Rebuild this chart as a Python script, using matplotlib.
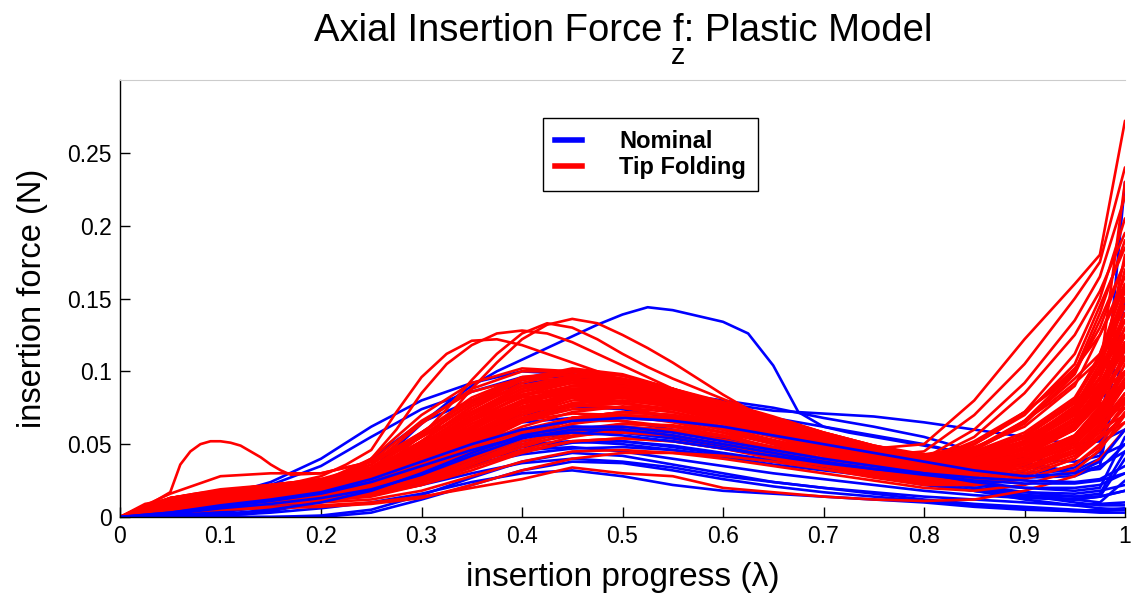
import matplotlib
matplotlib.use("Agg")
import matplotlib.pyplot as plt
from matplotlib.lines import Line2D
from matplotlib import font_manager

# Insertion progress grid shared by most trials
lam = [0, .05, .1, .15, .2, .25, .3, .35, .4, .45, .5, .55, .6, .65, .7, .75,
       .8, .85, .9, .95, .975, 1.0]
# Finer grid for the trials with pronounced peaks
lam_fine = [0, .025, .05, .075, .1, .125, .15, .175, .2, .225, .25, .275, .3, .325,
            .35, .375, .4, .425, .45, .475, .5, .525, .55, .575, .6, .625, .65, .675,
            .7, .725, .75, .775, .8, .825, .85, .875, .9, .925, .95, .975, 1.0]

# Nominal insertions: axial force in mN
nominal_peak = [0, 0, 0, 1, 1, 2, 4, 7, 12, 20, 32, 48, 64, 78, 90, 100, 108, 116, 124, 132,
                139, 144, 142, 138, 134, 126, 104, 72, 62, 58, 55, 52, 49, 46, 43, 40, 37, 34, 31, 33, 50]
nominal_02 = [0, 1, 3, 8, 18, 40, 65, 80, 92, 95, 92, 85, 78, 73, 71, 69, 65, 60, 55, 50, 52, 60]
nominal_03 = [0, 8, 14, 24, 40, 62, 80, 92, 100, 98, 92, 85, 80, 75, 68, 62, 55, 45, 40, 38, 42, 50]
nominal_04 = [0, 6, 12, 22, 35, 55, 74, 86, 96, 96, 90, 82, 75, 68, 62, 56, 50, 42, 35, 30, 35, 45]
nominal_05 = [0, 0, 0, 0, 0, 3, 12, 22, 32, 38, 37, 32, 26, 21, 17, 14, 11, 8, 6, 4, 5, 6]
nominal_06 = [0, 0, 0, 0, 1, 5, 15, 27, 38, 44, 42, 36, 30, 24, 20, 16, 12, 9, 7, 5, 4, 5]
nominal_07 = [0, 0, 1, 3, 6, 10, 16, 24, 30, 32, 28, 22, 18, 16, 14, 12, 10, 7, 5, 4, 3, 3]
nominal_08 = [0, 2, 5, 8, 12, 16, 22, 30, 37, 40, 38, 34, 28, 24, 20, 17, 14, 12, 10, 8, 9, 10]
nominal_09 = [0, 3, 8, 12, 15, 20, 28, 38, 46, 48, 45, 40, 35, 30, 26, 22, 18, 15, 13, 12, 14, 18]
nominal_10 = [0, 4, 9, 13, 17, 23, 32, 42, 50, 52, 50, 46, 41, 36, 32, 28, 25, 22, 20, 20, 22, 30]
nominal_11 = [0, 3, 7, 11, 16, 24, 35, 46, 55, 58, 56, 52, 47, 42, 37, 33, 30, 27, 25, 24, 26, 35]
nominal_12 = [0, 5, 10, 14, 19, 27, 40, 52, 60, 62, 60, 55, 50, 45, 40, 36, 32, 30, 30, 32, 40, 150]
nominal_13 = [0, 4, 9, 13, 18, 28, 42, 55, 65, 68, 66, 60, 54, 48, 43, 38, 34, 31, 30, 34, 45, 230]
nominal_14 = [0, 2, 6, 10, 15, 25, 40, 56, 70, 76, 74, 68, 60, 52, 45, 40, 35, 30, 27, 28, 35, 120]
nominal_15 = [0, 3, 8, 12, 17, 26, 38, 50, 60, 66, 68, 66, 62, 56, 50, 44, 38, 32, 28, 30, 38, 60]
nominal_16 = [0, 1, 4, 8, 13, 22, 35, 48, 58, 62, 60, 55, 48, 42, 36, 30, 24, 18, 14, 12, 14, 18]
nominal_17 = [0, 2, 6, 9, 13, 20, 30, 40, 48, 52, 52, 48, 43, 38, 33, 28, 22, 18, 15, 14, 16, 45]
nominal_18 = [0, 1, 5, 9, 14, 22, 34, 46, 56, 60, 58, 54, 49, 44, 39, 34, 28, 22, 17, 14, 14, 40]
nominal_19 = [0, 0, 2, 5, 10, 18, 30, 44, 56, 62, 62, 58, 52, 46, 40, 35, 30, 24, 20, 18, 20, 55]
nominal_20 = [0, 2, 6, 10, 14, 20, 28, 36, 43, 47, 48, 46, 42, 38, 34, 30, 26, 20, 15, 12, 10, 25]
nominal_21 = [0, 3, 7, 11, 15, 22, 33, 45, 56, 61, 60, 56, 50, 44, 38, 32, 26, 20, 15, 10, 8, 8]
nominal_22 = [0, 2, 5, 8, 11, 16, 24, 35, 45, 51, 52, 49, 44, 39, 34, 29, 24, 18, 12, 8, 6, 5]
nominal_23 = [0, 1, 4, 7, 11, 17, 27, 40, 52, 58, 58, 54, 48, 42, 36, 30, 25, 20, 17, 16, 18, 22]
nominal_24 = [0, 2, 6, 9, 13, 19, 29, 42, 54, 60, 60, 56, 50, 44, 38, 33, 29, 25, 23, 23, 25, 30]

# Tip-folding insertions with the highest mid-insertion peaks (fine grid), in mN
folding_peak_a = [0, 6, 10, 12, 14, 15, 17, 18, 20, 23, 28, 36, 50, 68, 88, 106, 122, 132, 136, 133,
                  125, 116, 106, 95, 84, 74, 66, 60, 54, 50, 46, 43, 42, 45, 52, 62, 72, 85, 100, 130, 175]
folding_peak_b = [0, 7, 11, 13, 15, 17, 18, 20, 22, 26, 32, 42, 56, 74, 94, 112, 126, 133, 130, 122,
                  112, 103, 95, 88, 81, 74, 67, 60, 54, 49, 45, 42, 40, 43, 50, 60, 72, 86, 102, 125, 160]
folding_peak_c = [0, 9, 12, 14, 16, 18, 20, 22, 25, 30, 40, 60, 85, 105, 118, 126, 128, 126, 120, 112,
                  104, 96, 88, 80, 72, 65, 58, 52, 47, 43, 40, 38, 38, 41, 47, 56, 66, 78, 92, 108, 135]
folding_peak_d = [0, 8, 13, 16, 18, 20, 22, 24, 28, 36, 46, 72, 96, 112, 121, 122, 118, 112, 106, 100,
                  94, 88, 82, 76, 70, 64, 58, 53, 48, 44, 40, 38, 37, 40, 46, 55, 66, 80, 95, 112, 150]

# Remaining tip-folding insertions (coarse grid), in mN
folding_05 = [0, 12, 17, 20, 24, 34, 55, 78, 95, 102, 98, 88, 76, 64, 52, 44, 42, 50, 72, 112, 150, 205]
folding_06 = [0, 10, 15, 19, 23, 30, 48, 70, 88, 96, 95, 88, 78, 66, 55, 47, 50, 80, 122, 160, 180, 272]
folding_07 = [0, 16, 28, 30, 30, 38, 58, 80, 94, 98, 92, 82, 70, 60, 50, 42, 45, 70, 105, 150, 175, 240]
folding_08 = [0, 9, 13, 17, 21, 28, 42, 62, 80, 90, 92, 86, 76, 65, 54, 45, 40, 60, 92, 135, 165, 220]
folding_09 = [0, 11, 16, 20, 22, 27, 38, 55, 72, 84, 88, 84, 74, 62, 52, 44, 38, 55, 85, 125, 155, 195]
folding_10 = [0, 8, 12, 15, 18, 24, 35, 52, 70, 82, 86, 82, 72, 62, 52, 43, 37, 40, 52, 76, 105, 145]
folding_11 = [0, 13, 19, 22, 26, 33, 50, 72, 90, 97, 94, 85, 72, 60, 50, 42, 36, 38, 48, 68, 88, 120]
folding_12 = [0, 10, 14, 17, 20, 26, 40, 60, 78, 88, 88, 80, 70, 60, 50, 42, 36, 36, 44, 62, 80, 110]
folding_13 = [0, 7, 11, 14, 17, 22, 32, 48, 65, 76, 80, 76, 68, 56, 42, 32, 27, 30, 38, 54, 72, 100]
folding_14 = [0, 12, 16, 19, 22, 30, 46, 66, 84, 92, 90, 82, 70, 58, 47, 39, 33, 34, 40, 54, 70, 95]
folding_15 = [0, 9, 13, 16, 19, 24, 36, 54, 70, 80, 82, 78, 70, 60, 50, 42, 37, 40, 50, 66, 84, 90]
folding_16 = [0, 11, 15, 18, 21, 27, 40, 58, 74, 84, 86, 80, 70, 59, 48, 40, 34, 34, 40, 52, 66, 80]
folding_17 = [0, 8, 11, 13, 16, 20, 30, 44, 58, 68, 72, 70, 64, 56, 48, 41, 36, 36, 42, 55, 70, 75]
folding_18 = [0, 10, 13, 15, 18, 23, 34, 50, 66, 76, 78, 74, 66, 57, 48, 40, 34, 33, 38, 48, 60, 70]
folding_19 = [0, 6, 9, 11, 13, 17, 26, 40, 54, 64, 68, 66, 58, 46, 36, 28, 24, 26, 32, 44, 55, 65]
folding_20 = [0, 12, 17, 21, 25, 33, 52, 74, 92, 100, 97, 88, 76, 64, 53, 45, 40, 46, 64, 98, 135, 175]
folding_21 = [0, 9, 13, 16, 19, 25, 38, 56, 74, 86, 90, 86, 77, 67, 57, 48, 42, 44, 54, 74, 100, 140]
folding_22 = [0, 11, 15, 17, 20, 25, 36, 52, 68, 78, 82, 80, 73, 64, 55, 47, 41, 43, 52, 70, 92, 125]
folding_23 = [0, 7, 10, 12, 14, 18, 27, 40, 54, 64, 70, 68, 60, 50, 40, 32, 27, 30, 38, 54, 72, 105]
folding_24 = [0, 10, 14, 17, 19, 24, 34, 48, 62, 72, 76, 74, 68, 60, 51, 43, 36, 36, 44, 60, 78, 160]
folding_25 = [0, 13, 18, 21, 24, 30, 44, 62, 78, 86, 86, 80, 71, 61, 51, 43, 37, 40, 52, 74, 100, 230]
folding_26 = [0, 8, 12, 14, 16, 20, 28, 42, 56, 66, 70, 68, 62, 55, 47, 40, 34, 34, 40, 54, 72, 115]
folding_27 = [0, 11, 16, 19, 22, 28, 42, 60, 76, 84, 84, 78, 68, 58, 48, 40, 34, 35, 44, 62, 85, 100]
folding_28 = [0, 9, 12, 14, 16, 19, 25, 36, 48, 58, 64, 62, 56, 46, 36, 28, 23, 25, 32, 44, 58, 85]
folding_29 = [0, 12, 17, 20, 23, 30, 47, 68, 86, 94, 92, 84, 74, 63, 52, 44, 39, 43, 56, 80, 110, 145]
folding_30 = [0, 10, 14, 16, 18, 22, 30, 44, 58, 68, 72, 70, 62, 52, 42, 34, 29, 30, 36, 50, 66, 90]
folding_31 = [0, 8, 11, 13, 15, 18, 24, 34, 46, 55, 60, 58, 52, 44, 36, 30, 26, 28, 36, 50, 68, 100]
folding_32 = [0, 11, 15, 18, 21, 27, 40, 58, 75, 85, 88, 84, 76, 66, 56, 47, 40, 42, 52, 72, 96, 180]
folding_33 = [0, 13, 18, 22, 26, 36, 58, 80, 96, 100, 94, 84, 72, 60, 49, 40, 35, 38, 50, 72, 100, 135]
folding_34 = [0, 10, 15, 18, 22, 30, 50, 72, 88, 95, 92, 84, 73, 61, 50, 42, 37, 40, 52, 76, 105, 150]
folding_35 = [0, 4, 6, 7, 8, 10, 14, 20, 26, 34, 30, 28, 20, 17, 14, 12, 11, 12, 18, 28, 40, 60]
folding_36 = [0, 5, 7, 9, 10, 12, 18, 28, 38, 45, 46, 44, 40, 35, 30, 25, 20, 18, 22, 32, 46, 70]
folding_37 = [0, 6, 8, 10, 12, 15, 22, 32, 44, 52, 54, 52, 47, 41, 35, 29, 24, 22, 26, 36, 50, 72]
folding_38 = [0, 3, 5, 6, 7, 9, 13, 22, 32, 40, 44, 44, 42, 38, 33, 28, 24, 22, 26, 36, 48, 65]
folding_39 = [0, 12, 16, 19, 23, 32, 52, 76, 94, 101, 97, 88, 77, 66, 55, 46, 41, 47, 66, 100, 140, 190]
folding_40 = [0, 10, 14, 17, 20, 28, 46, 68, 86, 94, 94, 88, 79, 69, 58, 49, 43, 48, 62, 90, 125, 165]
folding_41 = [0, 9, 13, 16, 19, 25, 40, 60, 78, 88, 90, 86, 78, 68, 58, 49, 42, 44, 56, 80, 110, 150]
folding_42 = [0, 11, 15, 18, 21, 29, 48, 70, 86, 92, 90, 82, 72, 61, 51, 42, 36, 38, 48, 66, 90, 120]
folding_43 = [0, 8, 12, 15, 18, 24, 38, 57, 74, 84, 86, 82, 74, 64, 54, 45, 38, 38, 46, 62, 82, 110]
folding_44 = [0, 12, 17, 20, 23, 31, 50, 72, 88, 94, 90, 82, 71, 60, 50, 42, 36, 37, 46, 64, 88, 130]
folding_45 = [0, 7, 10, 13, 16, 21, 33, 50, 67, 78, 82, 80, 73, 64, 54, 45, 38, 39, 50, 70, 95, 135]
folding_46 = [0, 10, 14, 17, 20, 27, 44, 64, 80, 88, 88, 82, 73, 63, 53, 44, 37, 36, 42, 56, 74, 100]
folding_47 = [0, 9, 13, 15, 18, 23, 35, 52, 68, 78, 80, 76, 68, 58, 48, 40, 33, 32, 38, 52, 70, 95]
folding_48 = [0, 11, 15, 18, 21, 28, 45, 66, 83, 90, 88, 80, 69, 58, 48, 40, 34, 34, 42, 60, 84, 118]
folding_49 = [0, 8, 11, 14, 17, 22, 34, 50, 66, 76, 78, 74, 66, 57, 48, 40, 34, 35, 44, 62, 86, 125]
folding_50 = [0, 10, 14, 16, 19, 24, 37, 55, 72, 82, 84, 80, 72, 62, 52, 43, 36, 36, 44, 60, 80, 108]
folding_51 = [0, 13, 18, 21, 25, 34, 55, 78, 95, 100, 95, 86, 75, 64, 54, 46, 42, 50, 70, 105, 145, 185]
folding_52 = [0, 6, 9, 11, 14, 18, 28, 43, 58, 68, 72, 70, 64, 56, 47, 39, 32, 32, 40, 56, 76, 98]
folding_53 = [0, 9, 13, 16, 19, 25, 40, 60, 78, 87, 88, 83, 74, 64, 54, 45, 38, 40, 52, 74, 102, 170]
folding_54 = [0, 11, 15, 18, 21, 27, 42, 62, 80, 90, 92, 87, 78, 68, 58, 49, 42, 44, 56, 80, 108, 155]
folding_55 = [0, 7, 10, 12, 14, 17, 24, 36, 50, 60, 64, 63, 58, 51, 43, 36, 29, 28, 34, 46, 62, 82]
folding_56 = [0, 10, 14, 17, 20, 26, 40, 58, 74, 82, 82, 76, 67, 57, 47, 39, 32, 32, 38, 52, 70, 92]
folding_57 = [0, 11, 15, 18, 22, 36, 64, 88, 100, 100, 94, 86, 76, 65, 55, 47, 41, 45, 58, 82, 110, 150]
folding_58 = [0, 10, 14, 17, 21, 33, 58, 82, 96, 98, 93, 84, 74, 64, 54, 46, 40, 42, 52, 72, 96, 130]
folding_59 = [0, 9, 13, 16, 20, 30, 52, 76, 90, 94, 90, 82, 72, 62, 52, 44, 38, 40, 50, 70, 92, 120]
folding_60 = [0, 12, 16, 19, 23, 38, 66, 86, 95, 94, 88, 80, 70, 60, 50, 42, 37, 40, 52, 74, 100, 140]
folding_61 = [0, 8, 12, 15, 18, 28, 48, 68, 82, 86, 82, 75, 66, 57, 48, 40, 34, 35, 44, 62, 84, 110]
folding_62 = [0, 10, 14, 16, 19, 27, 44, 64, 78, 82, 79, 72, 64, 55, 46, 38, 32, 32, 40, 56, 76, 100]
folding_63 = [0, 9, 12, 15, 17, 24, 40, 58, 72, 77, 75, 69, 61, 53, 45, 37, 31, 31, 38, 52, 70, 90]
folding_64 = [0, 8, 11, 13, 16, 22, 36, 53, 66, 71, 70, 65, 58, 50, 42, 35, 29, 28, 34, 48, 64, 85]
folding_65 = [0, 7, 10, 12, 14, 20, 32, 48, 60, 66, 66, 62, 56, 48, 40, 33, 27, 26, 32, 44, 60, 80]
folding_66 = [0, 6, 9, 11, 13, 18, 28, 43, 55, 61, 62, 59, 53, 46, 38, 31, 25, 24, 30, 42, 56, 75]
folding_67 = [0, 6, 8, 10, 12, 16, 25, 38, 50, 56, 58, 56, 50, 43, 36, 29, 24, 23, 28, 40, 54, 70]
folding_68 = [0, 5, 7, 9, 11, 14, 22, 34, 45, 52, 54, 52, 47, 40, 33, 27, 22, 22, 28, 40, 55, 78]
folding_69 = [0, 11, 15, 18, 22, 34, 56, 78, 90, 92, 87, 79, 70, 60, 51, 43, 37, 38, 47, 66, 90, 125]
folding_70 = [0, 9, 13, 16, 19, 28, 46, 66, 80, 85, 83, 77, 68, 59, 50, 42, 36, 37, 46, 64, 86, 115]
folding_71 = [0, 7, 10, 12, 15, 21, 34, 52, 66, 74, 75, 72, 65, 57, 48, 40, 33, 32, 38, 52, 70, 95]
folding_72 = [0, 12, 17, 20, 24, 40, 70, 92, 102, 100, 92, 82, 71, 61, 51, 43, 38, 42, 55, 80, 112, 160]
folding_73 = [0, 5, 8, 10, 12, 15, 24, 38, 52, 60, 62, 60, 55, 48, 40, 33, 27, 26, 32, 46, 64, 90]
folding_74 = [0, 8, 11, 13, 15, 19, 30, 46, 60, 68, 70, 67, 60, 52, 44, 36, 30, 29, 36, 50, 68, 92]

# One tip-folding trial with an early force bump, sampled more finely
lam_bump = [0, .025, .05, .06, .07, .08, .09, .1, .11, .12, .13, .14, .15, .16, .17,
            .2, .25, .3, .35, .4, .45, .5, .55, .6, .65, .7, .75, .8, .85, .9, .95, .975, 1.0]
folding_bump = [0, 7, 17, 36, 45, 50, 52, 52, 51, 49, 45, 41, 36, 32, 29,
                30, 38, 55, 72, 84, 88, 85, 78, 68, 58, 49, 42, 38, 42, 55, 78, 100, 125]

# Nominal trials drawn beneath the tip-folding band, and a few drawn over it
nominal_under = [nominal_02, nominal_03, nominal_04, nominal_05, nominal_06,
                 nominal_07, nominal_08, nominal_09, nominal_10, nominal_12,
                 nominal_13, nominal_14, nominal_16, nominal_17, nominal_18,
                 nominal_20, nominal_21, nominal_22, nominal_23]
nominal_over = [nominal_11, nominal_15, nominal_19, nominal_24]
folding_peaks = [folding_peak_a, folding_peak_b, folding_peak_c, folding_peak_d]
folding = [folding_05, folding_06, folding_07, folding_08, folding_09, folding_10,
           folding_11, folding_12, folding_13, folding_14, folding_15, folding_16,
           folding_17, folding_18, folding_19, folding_20, folding_21, folding_22,
           folding_23, folding_24, folding_25, folding_26, folding_27, folding_28,
           folding_29, folding_30, folding_31, folding_32, folding_33, folding_34,
           folding_35, folding_36, folding_37, folding_38, folding_39, folding_40,
           folding_41, folding_42, folding_43, folding_44, folding_45, folding_46,
           folding_47, folding_48, folding_49, folding_50, folding_51, folding_52,
           folding_53, folding_54, folding_55, folding_56, folding_57, folding_58,
           folding_59, folding_60, folding_61, folding_62, folding_63, folding_64,
           folding_65, folding_66, folding_67, folding_68, folding_69, folding_70,
           folding_71, folding_72, folding_73, folding_74]

x_ticks = [0, 0.1, 0.2, 0.3, 0.4, 0.5, 0.6, 0.7, 0.8, 0.9, 1.0]
x_tick_labels = ["0", "0.1", "0.2", "0.3", "0.4", "0.5", "0.6", "0.7", "0.8", "0.9", "1"]
y_ticks = [0, 0.05, 0.1, 0.15, 0.2, 0.25]
y_tick_labels = ["0", "0.05", "0.1", "0.15", "0.2", "0.25"]

BLUE = "#0000ff"
RED = "#ff0000"
MN = 1000.0

installed = {f.name for f in font_manager.fontManager.ttflist}
body_font = ["Liberation Sans", "DejaVu Sans"]
narrow = "Liberation Sans Narrow" in installed
title_font = (["Liberation Sans Narrow"] if narrow else []) + body_font

W, H, DPI = 1131, 596, 100
fig = plt.figure(figsize=(W / DPI, H / DPI), dpi=DPI)
ax = fig.add_axes([120 / W, 1 - 517 / H, (1125 - 120) / W, (517 - 80) / H])

LW = 1.9
style = dict(lw=LW, solid_joinstyle="round", solid_capstyle="round")
ax.plot(lam_fine, [v / MN for v in nominal_peak], color=BLUE, **style)
for f in nominal_under:
    ax.plot(lam, [v / MN for v in f], color=BLUE, **style)
for f in folding:
    ax.plot(lam, [v / MN for v in f], color=RED, **style)
for f in folding_peaks:
    ax.plot(lam_fine, [v / MN for v in f], color=RED, **style)
ax.plot(lam_bump, [v / MN for v in folding_bump], color=RED, **style)
for f in nominal_over:
    ax.plot(lam, [v / MN for v in f], color=BLUE, **style)

ax.set_xlim(0, 1)
ax.set_ylim(0, 0.3)
ax.set_xticks(x_ticks)
ax.set_xticklabels(x_tick_labels, family=body_font, fontsize=16.5)
ax.set_yticks(y_ticks)
ax.set_yticklabels(y_tick_labels, family=body_font, fontsize=16.5)
ax.tick_params(direction="in", length=7, width=1, top=False, right=False, pad=6)
ax.spines["right"].set_visible(False)
ax.spines["top"].set_color("#cccccc")
ax.spines["left"].set_linewidth(1)
ax.spines["bottom"].set_linewidth(1)

ax.set_xlabel("insertion progress (\u03bb)", family=body_font, fontsize=24, labelpad=10)
ax.set_ylabel("insertion force (N)", family=body_font, fontsize=23.5, labelpad=14)

# Title with the force component subscript set directly beneath the "f"
title_size = 31 if narrow else 27.5
title_y = 1 - 41 / H
title = fig.text(623 / W, title_y, "Axial Insertion Force f: Plastic Model",
                 ha="center", va="baseline", family=title_font, fontsize=title_size)
renderer = fig.canvas.get_renderer()
full_box = title.get_window_extent(renderer)
probe = fig.text(0, 0, "Axial Insertion Force f", family=title_font, fontsize=title_size)
prefix_w = probe.get_window_extent(renderer).width
probe.set_text("f")
f_w = probe.get_window_extent(renderer).width
probe.remove()
fig.text((full_box.x0 + prefix_w - f_w / 2) / W, 1 - 64 / H, "z",
         ha="center", va="baseline", family=title_font, fontsize=title_size * 0.75)

handles = [Line2D([], [], color=BLUE, lw=4), Line2D([], [], color=RED, lw=4)]
leg = ax.legend(handles, ["Nominal", "Tip Folding"], loc="upper left",
                bbox_to_anchor=((543 - 120) / 1005, (517 - 118) / 437),
                prop={"family": body_font, "weight": "bold", "size": 17},
                frameon=True, fancybox=False, edgecolor="black", framealpha=1,
                handlelength=1.15, handletextpad=1.55, borderpad=0.52, labelspacing=0.12,
                borderaxespad=0)
leg.get_frame().set_linewidth(1)

fig.savefig("out.png", dpi=DPI)
